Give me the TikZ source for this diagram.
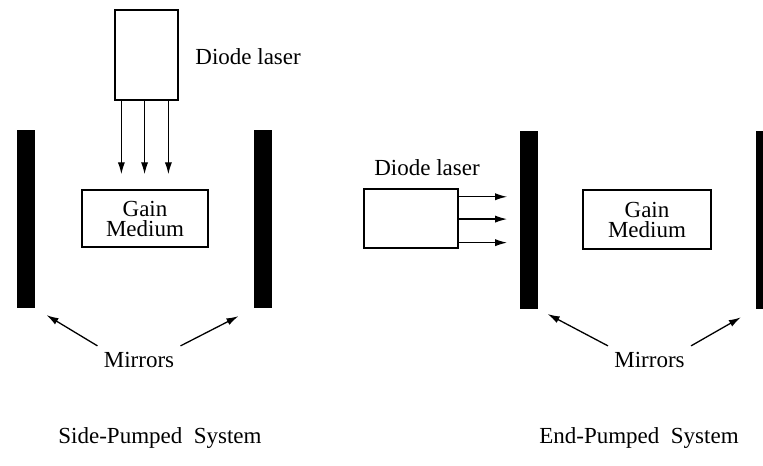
\documentclass[tikz,border=0pt]{standalone}
\usepackage{fontspec}
\setmainfont{Liberation Serif}
\usetikzlibrary{arrows.meta,positioning,calc}

\begin{document}
\begin{tikzpicture}[
    x=0.5pt, y=-0.5pt,
    box/.style={draw, line width=0.7pt, align=center, inner sep=0pt,
      font=\fontsize{11.5}{10}\selectfont},
    mirror/.style={fill=black, inner sep=0pt, minimum width=9pt, minimum height=89pt},
    lbl/.style={font=\fontsize{11.5}{14}\selectfont, inner sep=3pt},
    arr/.style={-{Latex[length=6pt,width=3.6pt]}, line width=0.65pt}
  ]
    \useasboundingbox (0,0) rectangle (763,465);
    \clip (0,0) rectangle (763,465);
    % side-pumped
    \node[box, minimum width=31.5pt, minimum height=45pt] (diodeS) at (146.5,55) {};
    \node[lbl, anchor=west] (diodeSlbl) at (189,57) {Diode laser};
    \node[box, minimum width=63pt, minimum height=28.5pt] (gainS) at (145,218.5) {Gain\\Medium};
    \node[mirror] (mirSa) at (26,219) {};
    \node[mirror] (mirSb) at (263,219) {};
    \node[lbl] (mirSlbl) at (139,360) {Mirrors};
    \node[lbl] (titleS) at (160,438) {Side-Pumped\ \ System};
    \foreach \f in {0.11,0.47,0.84} {
      \coordinate (p) at ($(diodeS.south west)!\f!(diodeS.south east)$);
      \draw[arr, shorten >=7.5pt] (p) -- (p |- gainS.north);
    }
    \draw[arr, shorten >=6.5pt] (mirSlbl.north west) -- (mirSa.south east);
    \draw[arr, shorten >=8.5pt] (mirSlbl.north east) -- (mirSb.south west);
    % end-pumped
    \node[box, minimum width=47pt, minimum height=29.5pt] (diodeE) at (411,218.5) {};
    \node[lbl] (diodeElbl) at (427,168) {Diode laser};
    \node[mirror] (mirEa) at (528.5,219.5) {};
    \node[mirror] (mirEb) at (765,219.5) {};
    \node[box, minimum width=64pt, minimum height=29.5pt] (gainE) at (647,219.5) {Gain\\Medium};
    \node[lbl] (mirElbl) at (649.5,360) {Mirrors};
    \node[lbl] (titleE) at (639,438) {End-Pumped\ \ System};
    \foreach \f in {0.14,0.51,0.9} {
      \coordinate (q) at ($(diodeE.north east)!\f!(diodeE.south east)$);
      \draw[arr, shorten >=6pt] (q) -- (q -| mirEa.west);
    }
    \draw[arr, shorten >=5.5pt] (mirElbl.north west) -- (mirEa.south east);
    \draw[arr, shorten >=8.5pt] (mirElbl.north east) -- (mirEb.south west);
  \end{tikzpicture}
\end{document}
